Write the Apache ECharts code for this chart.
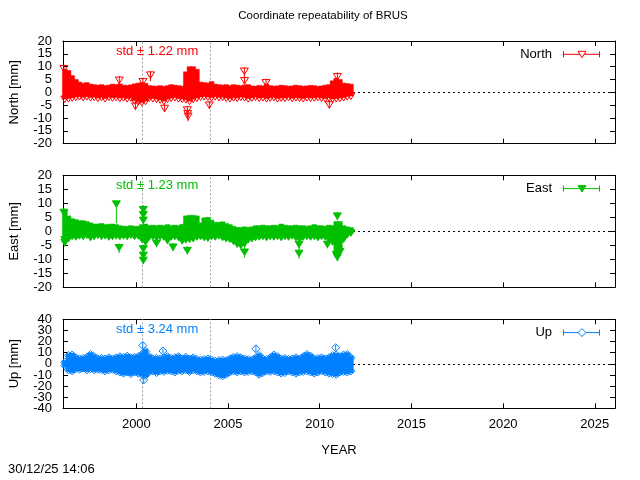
<!DOCTYPE html>
<html><head><meta charset="utf-8">
<script src="https://cdn.jsdelivr.net/npm/echarts@6/dist/echarts.min.js"></script>
<style>html,body{margin:0;padding:0;background:#fff}#c{width:640px;height:480px}</style>
</head><body><div id="c"></div>
<script>
// ---- data ----
const sampleYears = [
 1996.0,1996.2,1996.4,1996.6,1996.8, 1997.0,1997.2,1997.4,1997.6,1997.8,
 1998.0,1998.2,1998.4,1998.6,1998.8, 1999.0,1999.2,1999.4,1999.6,1999.8,
 2000.0,2000.2,2000.4,2000.6,2000.8, 2001.0,2001.2,2001.4,2001.6,2001.8,
 2002.0,2002.2,2002.4,2002.6,2002.8, 2003.0,2003.2,2003.4,2003.6,2003.8,
 2004.0,2004.2,2004.4,2004.6,2004.8, 2005.0,2005.2,2005.4,2005.6,2005.8,
 2006.0,2006.2,2006.4,2006.6,2006.8, 2007.0,2007.2,2007.4,2007.6,2007.8,
 2008.0,2008.2,2008.4,2008.6,2008.8, 2009.0,2009.2,2009.4,2009.6,2009.8,
 2010.0,2010.2,2010.4,2010.6,2010.8, 2011.0,2011.2,2011.4,2011.6];
const STEP = 0.2;

const northHi = [
 9.0,8.5,6.5,5.0,4.0, 3.5,3.8,3.2,3.0,2.8, 3.0,2.6,2.8,3.2,3.0, 3.3,2.8,2.7,2.9,3.3,
 3.6,3.8,3.5,2.6,2.5, 2.4,2.6,2.3,2.6,3.0, 2.8,2.6,2.4,8.0,10.0, 10.0,9.0,4.0,3.8,3.6,
 4.2,3.2,3.0,2.8,3.0, 2.6,3.0,2.8,2.6,2.9, 3.0,2.5,2.4,2.7,2.5, 3.2,2.6,2.4,2.5,2.8,
 2.6,2.4,2.5,2.8,2.6, 2.4,2.5,2.7,2.6,2.3, 2.5,2.8,3.0,4.5,5.5, 5.0,3.6,3.4,3.2];
const northLo = [
 -4.0,-3.8,-3.5,-3.2,-3.0, -3.3,-3.0,-3.4,-3.2,-3.6, -3.3,-3.8,-3.2,-3.5,-3.3, -3.6,-3.4,-3.8,-3.5,-4.6,
 -5.0,-5.3,-4.8,-3.6,-3.8, -4.0,-4.3,-4.8,-4.0,-3.6, -3.4,-3.8,-4.0,-4.2,-4.8, -4.0,-3.6,-3.2,-3.0,-3.2,
 -3.4,-3.0,-3.4,-3.2,-3.6, -3.8,-3.4,-3.6,-3.2,-3.4, -3.8,-3.5,-3.2,-3.6,-3.4, -3.8,-3.5,-3.3,-3.8,-3.5,
 -3.6,-3.3,-3.7,-3.4,-3.6, -3.8,-3.4,-3.6,-3.5,-3.3, -3.6,-3.8,-3.5,-4.0,-3.8, -3.6,-3.4,-3.0,-2.8];
// [year, value, error below, error above]
const northOut = [
 [1996.05,9.3,1.5,1.5],[1999.07,4.8,1.5,1.5],[1999.95,-5.3,1.5,1.5],[2000.36,4.2,1.5,1.5],[2000.77,6.8,2.5,1.5],
 [2001.54,-6.2,1.5,1.5],[2002.78,-6.8,2,1.5],[2002.8,-8.2,2,1.5],[2002.82,-9.3,2,1.5],[2003.98,-4.9,1.5,1.5],
 [2005.89,8.3,3,1.5],[2005.9,4.6,1.5,1.5],[2007.07,3.8,1.5,1.5],[2010.52,-4.8,1.5,1.5],[2010.96,6.2,1.5,1.5]];

const eastHi = [
 7.4,5.5,4.5,4.2,3.8, 3.8,3.5,3.0,2.6,2.6, 2.8,2.4,2.5,2.6,2.4, 2.0,1.8,1.8,2.0,1.8,
 1.8,2.4,2.6,2.0,2.2, 2.0,2.2,2.0,2.4,2.0, 2.2,2.0,2.5,5.5,5.7, 5.7,5.5,3.0,4.8,5.0,
 4.0,3.2,3.2,3.4,2.8, 2.4,1.8,1.4,1.4,1.6, 1.4,1.6,2.0,2.0,2.2, 2.0,2.0,2.2,2.0,2.6,
 2.2,2.0,2.0,2.2,2.0, 2.0,1.8,2.0,2.4,2.0, 2.0,1.8,2.2,2.0,3.5, 3.5,2.0,1.6,1.4];
const eastLo = [
 -4.2,-3.8,-3.0,-3.2,-2.8, -3.0,-2.6,-3.4,-3.0,-2.6, -3.0,-2.8,-3.2,-3.0,-2.8, -3.0,-2.8,-3.0,-2.6,-3.0,
 -2.8,-4.0,-5.0,-3.2,-3.0, -3.4,-3.0,-3.2,-4.5,-3.2, -3.0,-3.4,-4.6,-4.2,-4.0, -3.8,-3.2,-3.0,-3.4,-3.6,
 -3.0,-3.2,-2.8,-3.4,-3.8, -4.0,-4.8,-5.8,-6.2,-5.6, -4.2,-3.8,-3.4,-3.2,-3.0, -3.4,-3.0,-3.2,-3.0,-3.4,
 -3.0,-3.2,-2.8,-3.4,-4.0, -3.2,-3.0,-3.2,-3.0,-3.4, -3.0,-3.2,-4.0,-5.0,-9.5, -8.5,-4.0,-2.4,-1.8];
const eastOut = [
 [1996.05,6.8,1.5,1.5],[1996.1,-4.0,1.5,1.5],[1998.91,9.8,7,0.3],[1999.06,-5.8,2,1.5],
 [2000.38,7.8,2,1.5],[2000.38,6.0,2,1.5],[2000.38,4.0,2,1.5],[2000.38,-6.2,2,1.5],[2000.38,-8.5,2,1.5],[2000.38,-10.3,1.5,2],
 [2001.1,-4.2,1.5,1.5],[2002.0,-5.6,1.5,1.5],[2002.78,-6.8,1.5,1.5],[2005.9,-7.4,2,2],[2008.87,-4.6,1.5,1.5],
 [2008.87,-7.8,2,2],[2010.42,-4.6,1.5,1.5],[2010.96,5.5,1.5,1.5],[2010.96,-9.2,1.5,1.5]];

const upHi = [
 5,11,11.5,9,8, 8.5,9.5,12,10,8, 8.5,8,9,8,9, 10,9.5,10.5,9,9.5,
 10,12,15,10,8, 8.5,8,9,10,8.5, 9,10,8,9.5,8, 9,7.5,7,7.5,8,
 7,6,6.5,7,6.5, 8,9.5,10,9,8, 7.5,7,9,11,8, 7.5,9,11.5,10,8,
 8.5,7.5,8,9,8, 10,12,10.5,8,8.5, 9,8,9,11,11.5, 10,11.5,12,9];
const upLo = [
 -5,-9,-10,-8,-8.5, -7.5,-9,-8,-9,-8.5, -9,-10,-9,-8.5,-10, -11,-12,-11,-12.5,-11,
 -12,-13,-14,-11,-10, -11.5,-10,-10.5,-9.5,-10, -11,-9.5,-10,-9,-10.5, -9,-10,-11,-10.5,-10,
 -11,-12,-13.5,-14.5,-13, -11,-10,-11,-10,-11, -10.5,-10,-11,-13,-11.5, -10,-10.5,-10,-11,-12,
 -11.5,-10,-11,-12,-11, -10.5,-10,-11,-12,-11, -10,-11,-12,-12.5,-13, -11,-10.5,-11,-10];
const upOut = [[2000.35,16.5,3,3],[2000.4,-14.5,3,3],[2001.45,11.5,2,2],[2006.52,13.5,3,3],[2010.87,14.5,2.5,2.5]];

const breakYears = [2000.33, 2004.02];
const xTickValues = [2000, 2005, 2010, 2015, 2020, 2025];
// y tick labels, split in two interleaved sets so that none is dropped as overlapping
const northTicksA = [-20, -10, 0, 10, 20], northTicksB = [-15, -5, 5, 15];
const eastTicksA = [-20, -10, 0, 10, 20], eastTicksB = [-15, -5, 5, 15];
const upTicksA = [-40, -20, 0, 20, 40], upTicksB = [-30, -10, 10, 30];
const compNames = ['North', 'East', 'Up'];
const yNames = ['North [mm]', 'East [mm]', 'Up [mm]'];
const stdLabels = ['std \u00b1 1.22 mm', 'std \u00b1 1.23 mm', 'std \u00b1 3.24 mm'];
const yMin = [-20, -20, -40], yMax = [20, 20, 40], yStep = [5, 5, 10];
const titleText = 'Coordinate repeatability of BRUS';
const stampText = '30/12/25 14:06';

// ---- styling ----
const FONT = '"Liberation Sans", Arial, sans-serif';
const colors = ['#ff0000', '#00c000', '#0080ff'];
const kinds = ['triOpen', 'triFill', 'dia'];
const gridTop = [41, 175.3, 319.3], gridH = [102.7, 112, 89];
const GL = 61, GR = 25;
const ticksA = [northTicksA, eastTicksA, upTicksA], ticksB = [northTicksB, eastTicksB, upTicksB];

function markerShape(kind, cx, cy, color) {
  if (kind === 'dia') return {type:'polygon', shape:{points:[[cx,cy-4],[cx+4,cy],[cx,cy+4],[cx-4,cy]]},
    style:{fill:'none', stroke:color, lineWidth:1}};
  const pts = [[cx-4,cy-3],[cx+4,cy-3],[cx,cy+3.5]];
  return {type:'polygon', shape:{points:pts},
    style: kind === 'triFill' ? {fill:color, stroke:color, lineWidth:1} : {fill:'none', stroke:color, lineWidth:1}};
}
function bandRender(kind, color) {
  const isDia = kind === 'dia';
  return function (params, api) {
    const x = api.value(0), hi = api.value(1), lo = api.value(2);
    const a = api.coord([x, hi]), b = api.coord([x + STEP, lo]);
    const cx = (a[0] + b[0]) / 2;
    const x0 = a[0] - 0.6, x1 = b[0] + 0.6;
    let yt, yb, mt, mb;
    if (isDia) { yt = a[1] + 2; yb = b[1] - 2; mt = a[1] + 4; mb = b[1] - 4; }
    else { yt = a[1]; yb = b[1] - 3.5; mb = yb; }
    yb = Math.max(yt, yb);
    const children = [
      {type:'polygon', shape:{points:[[x0,yt],[x1,yt],[x1,yb],[x0,yb]]}, style:{fill:color, stroke:color, lineWidth:0.5}},
      markerShape(kind, cx, mb, color)];
    if (isDia) children.push(markerShape(kind, cx, mt, color));
    return {type:'group', children};
  };
}
function outRender(kind, color) {
  return function (params, api) {
    const x = api.value(0), v = api.value(1), eDown = api.value(2), eUp = api.value(3);
    const p = api.coord([x, v]), t = api.coord([x, v + eUp]), b = api.coord([x, v - eDown]);
    return {type:'group', children:[
      {type:'line', shape:{x1:p[0], y1:t[1], x2:p[0], y2:b[1]}, style:{stroke:color, lineWidth:1}},
      markerShape(kind, p[0], p[1], color)]};
  };
}

const his = [northHi, eastHi, upHi], los = [northLo, eastLo, upLo], outs = [northOut, eastOut, upOut];
const grids = [], xAxes = [], yAxes = [], series = [], graphics = [];
const tickLine = {color:'#000', width:1};
const labelStyle = {color:'#000', fontSize:13, fontFamily:FONT};
for (let g = 0; g < 3; g++) {
  grids.push({left:GL, right:GR, top:gridTop[g], height:gridH[g]});
  ['bottom', 'top'].forEach(pos => xAxes.push({
    gridIndex:g, type:'value', min:1996, max:2026.1, position:pos,
    axisLine:{show:true, onZero:false, lineStyle:tickLine},
    axisTick:{show:true, inside:true, length:5, customValues:xTickValues, lineStyle:tickLine},
    axisLabel:Object.assign({show:(g === 2 && pos === 'bottom'), customValues:xTickValues, margin:10,
      formatter:v => String(v)}, labelStyle),
    splitLine:{show:false},
    name:(g === 2 && pos === 'bottom') ? 'YEAR' : '', nameLocation:'middle', nameGap:36,
    nameTextStyle:labelStyle
  }));
  const yBase = {gridIndex:g, type:'value', min:yMin[g], max:yMax[g], interval:yStep[g], splitLine:{show:false}};
  // left axis: line, ticks, first label set, name
  yAxes.push(Object.assign({}, yBase, {position:'left',
    axisLine:{show:true, onZero:false, lineStyle:tickLine},
    axisTick:{show:true, inside:true, length:5, lineStyle:tickLine},
    axisLabel:Object.assign({show:true, customValues:ticksA[g], margin:11, formatter:v => String(v)}, labelStyle),
    name:yNames[g], nameLocation:'middle', nameGap:42, nameTextStyle:labelStyle}));
  // right mirror axis: line and ticks only
  yAxes.push(Object.assign({}, yBase, {position:'right',
    axisLine:{show:true, onZero:false, lineStyle:tickLine},
    axisTick:{show:true, inside:true, length:5, lineStyle:tickLine},
    axisLabel:{show:false}}));
  // left label-only axis with the interleaved label set
  yAxes.push(Object.assign({}, yBase, {position:'left',
    axisLine:{show:false}, axisTick:{show:false},
    axisLabel:Object.assign({show:true, customValues:ticksB[g], margin:11, formatter:v => String(v)}, labelStyle)}));
  const xi = g * 2, yi = g * 3;
  series.push({
    type:'line', xAxisIndex:xi, yAxisIndex:yi, data:[], z:1, silent:true,
    markLine:{z:1, symbol:['none','none'], silent:true, label:{show:false}, animation:false,
      data:[{yAxis:0, lineStyle:{color:'#000', type:[2,3], width:1}}].concat(
        breakYears.map(v => ({xAxis:v, lineStyle:{color:'#a0a0a0', type:[2,2], width:1}})))}
  });
  series.push({
    type:'custom', name:compNames[g], xAxisIndex:xi, yAxisIndex:yi, z:6, clip:false,
    renderItem:bandRender(kinds[g], colors[g]),
    data:sampleYears.map((y, i) => [y, his[g][i], los[g][i]])
  });
  series.push({
    type:'custom', name:compNames[g] + ' outliers', xAxisIndex:xi, yAxisIndex:yi, z:7, clip:false,
    renderItem:outRender(kinds[g], colors[g]),
    data:outs[g]
  });
  // std label and legend entry
  const ly = gridTop[g] + 13.3;
  graphics.push({type:'text', x:116, y:gridTop[g] + 10.5, z:10,
    style:{text:stdLabels[g], fill:colors[g], font:'13px ' + FONT, align:'left', verticalAlign:'middle'}});
  graphics.push({type:'text', x:552, y:ly, z:10,
    style:{text:compNames[g], fill:'#000', font:'13px ' + FONT, align:'right', verticalAlign:'middle'}});
  graphics.push({type:'line', z:10, shape:{x1:563, y1:ly, x2:600, y2:ly}, style:{stroke:colors[g], lineWidth:1}});
  graphics.push({type:'line', z:10, shape:{x1:563.5, y1:ly-3, x2:563.5, y2:ly+3}, style:{stroke:colors[g], lineWidth:1}});
  graphics.push({type:'line', z:10, shape:{x1:599.5, y1:ly-3, x2:599.5, y2:ly+3}, style:{stroke:colors[g], lineWidth:1}});
  const m = markerShape(kinds[g], 582, ly, colors[g]);
  if (m.style.fill === 'none') m.style.fill = '#fff';
  m.z = 11;
  graphics.push(m);
}
graphics.push({type:'text', x:323, y:16, z:10,
  style:{text:titleText, fill:'#000', font:'11.5px ' + FONT, align:'center', verticalAlign:'middle'}});
graphics.push({type:'text', x:8, y:469, z:10,
  style:{text:stampText, fill:'#000', font:'13px ' + FONT, align:'left', verticalAlign:'middle'}});

const chart = echarts.init(document.getElementById('c'), null, {renderer:'canvas'});
chart.setOption({
  animation:false, backgroundColor:'#fff',
  grid:grids, xAxis:xAxes, yAxis:yAxes, series:series, graphic:graphics
});
</script></body></html>
